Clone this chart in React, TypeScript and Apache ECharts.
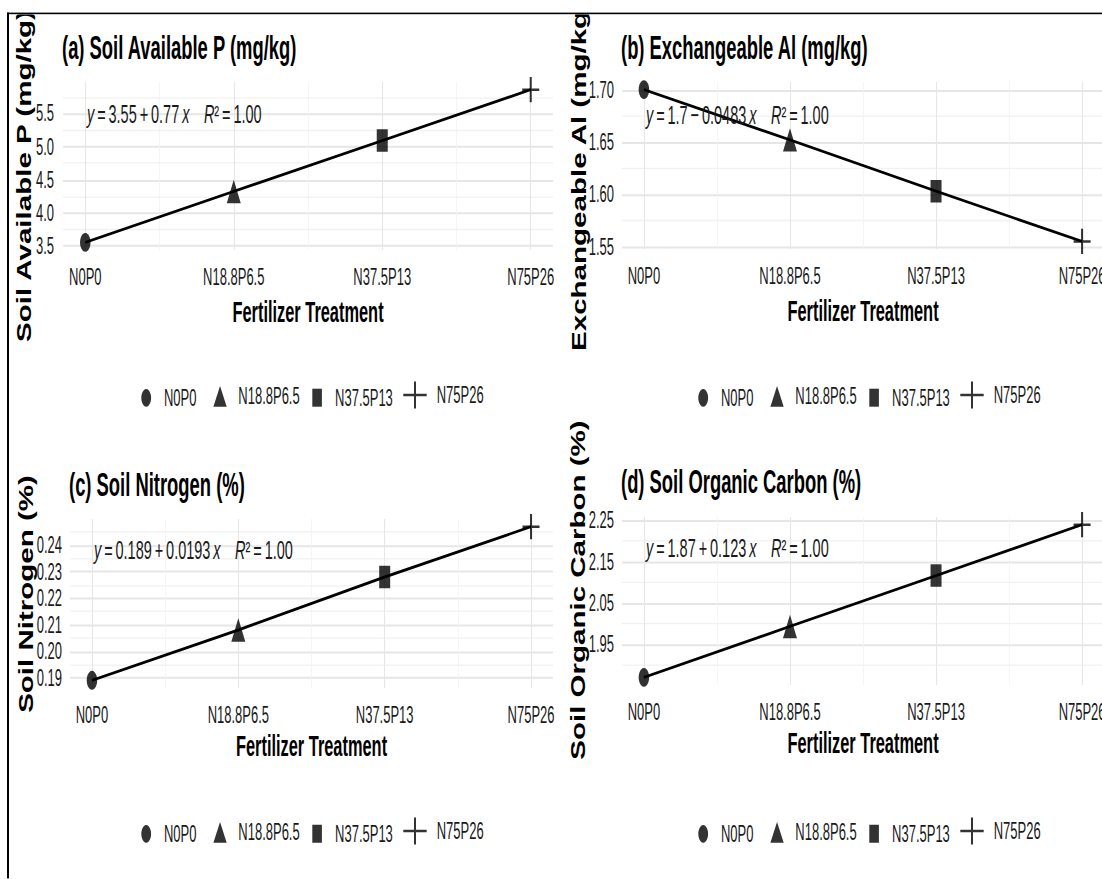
import { useEffect, useRef } from 'react';
import * as echarts from 'echarts';

// The figure is drawn in a compressed coordinate space and stretched vertically,
// which gives the tall, condensed look of the lettering and the oval markers.
const K = 1.8;
const W = 1102;
const H = 879 / K;
const FRAME_X = 7.3;
const FRAME_Y = 7.2;

const SANS = "'Liberation Sans', Arial, sans-serif";

// ---- data -------------------------------------------------------------
const treatments = ['N0P0', 'N18.8P6.5', 'N37.5P13', 'N75P26'];
const treatmentX = [0, 1, 2, 3];

const soilAvailableP = [3.55, 4.32, 5.09, 5.86];
const exchangeableAl = [1.7, 1.652, 1.603, 1.555];
const soilNitrogen = [0.189, 0.208, 0.228, 0.247];
const soilOrganicCarbon = [1.87, 1.993, 2.116, 2.239];

const panelTitles = [
  '(a) Soil Available P (mg/kg)',
  '(b) Exchangeable Al (mg/kg)',
  '(c) Soil Nitrogen (%)',
  '(d) Soil Organic Carbon (%)',
];
const yTitles = ['Soil Available P (mg/kg)', 'Exchangeable Al (mg/kg)', 'Soil Nitrogen (%)', 'Soil Organic Carbon (%)'];
const xTitle = 'Fertilizer Treatment';

const intercepts = ['3.55', '1.7', '0.189', '1.87'];
const slopeSigns = ['+', '\u2212', '+', '+'];
const slopes = ['0.77', '0.0483', '0.0193', '0.123'];
const rSquared = ['1.00', '1.00', '1.00', '1.00'];

const yMajorTicks = [
  [3.5, 4.0, 4.5, 5.0, 5.5],
  [1.55, 1.6, 1.65, 1.7],
  [0.19, 0.2, 0.21, 0.22, 0.23, 0.24],
  [1.95, 2.05, 2.15, 2.25],
];
const yMinorTicks = [
  [3.75, 4.25, 4.75, 5.25, 5.75],
  [1.575, 1.625, 1.675],
  [0.195, 0.205, 0.215, 0.225, 0.235, 0.245],
  [1.9, 2.0, 2.1, 2.2],
];
const yDecimals = [1, 2, 2, 2];
const xMinorTicks = [0.5, 1.5, 2.5];

const panelValues = [soilAvailableP, exchangeableAl, soilNitrogen, soilOrganicCarbon];

// ---- layout -----------------------------------------------------------
const panels = [
  { left: 63, top: 82 / K, width: 490, height: 168 / K, yLabelMargin: 9, xNameGap: 26, yNameX: 24, yNameY: 176 / K, titleLeft: 62, titleTop: 48 / K - 9.2, eqX: 87, eqY: 114 / K, legendDX: 0, legendCY: 395 / K },
  { left: 622, top: 82 / K, width: 482, height: 167 / K, yLabelMargin: 8, xNameGap: 26, yNameX: 579, yNameY: 176 / K, titleLeft: 621, titleTop: 48 / K - 9.2, eqX: 646, eqY: 115 / K, legendDX: 557, legendCY: 395 / K },
  { left: 70, top: 519 / K, width: 483, height: 169 / K, yLabelMargin: 8, xNameGap: 24, yNameX: 26, yNameY: 594 / K, titleLeft: 69, titleTop: 485 / K - 9.2, eqX: 94, eqY: 550 / K, legendDX: 0, legendCY: 831 / K },
  { left: 622, top: 517 / K, width: 482, height: 168 / K, yLabelMargin: 8, xNameGap: 24, yNameX: 578, yNameY: 590 / K, titleLeft: 621, titleTop: 482 / K - 9.2, eqX: 646, eqY: 548 / K, legendDX: 557, legendCY: 831 / K },
];

const PLUS = 'path://M4.4,0H5.6V4.5H10V5.5H5.6V10H4.4V5.5H0V4.5H4.4Z';
const markerSymbols = ['circle', 'triangle', 'rect', PLUS];
const markerSizes: (number | number[])[] = [10.5, [14, 13], [11, 12.5], [17, 14]];

const legendIcons = [
  'circle',
  'path://M0,11.5L6.65,0L13.3,11.5Z',
  'path://M0,0H9.6V10H0Z',
  'path://M10.7,0H12.7V6.8H23.4V8.2H12.7V15H10.7V8.2H0V6.8H10.7Z',
];
const legendIconH = [9.8, 11.5, 10, 15];
const legendIconCX = [154, 226.7, 325.3, 420];
const legendTextX = [171.7, 245, 343.3, 441.7];

const MAJOR = { color: '#e6e6e6', width: 1.1 };
const MINOR = { color: '#f1f1f1', width: 0.7 };
const TEXT = '#1a1a1a';

function buildOption() {
  const grids: any[] = [];
  const xAxes: any[] = [];
  const yAxes: any[] = [];
  const series: any[] = [];
  const legends: any[] = [];
  const titles: any[] = [];
  const graphics: any[] = [];

  panels.forEach((p, i) => {
    const vals = panelValues[i];
    const lo = Math.min(...vals);
    const hi = Math.max(...vals);
    const pad = (hi - lo) * 0.05;
    const ymin = lo - pad;
    const ymax = hi + pad;

    grids.push({ left: p.left, top: p.top, width: p.width, height: p.height, containLabel: false, outerBoundsMode: 'none' });

    xAxes.push({
      type: 'value', gridIndex: i, min: -0.15, max: 3.15,
      axisLine: { show: false },
      axisTick: { show: false, customValues: treatmentX },
      axisLabel: {
        customValues: treatmentX,
        formatter: (v: number) => treatments[Math.round(v)],
        margin: 8.5, fontSize: 13, fontFamily: SANS, color: TEXT,
      },
      splitLine: { show: true, lineStyle: MAJOR },
      name: xTitle, nameLocation: 'middle', nameGap: p.xNameGap,
      nameTextStyle: { fontFamily: SANS, fontWeight: 'bold', fontSize: 16.4, color: '#000' },
    });
    xAxes.push({
      type: 'value', gridIndex: i, min: -0.15, max: 3.15,
      axisLine: { show: false },
      axisTick: { show: false, customValues: xMinorTicks },
      axisLabel: { show: false, customValues: xMinorTicks },
      splitLine: { show: true, lineStyle: MINOR },
    });

    yAxes.push({
      type: 'value', gridIndex: i, min: ymin, max: ymax,
      axisLine: { show: false },
      axisTick: { show: false, customValues: yMajorTicks[i] },
      axisLabel: {
        customValues: yMajorTicks[i],
        formatter: (v: number) => v.toFixed(yDecimals[i]),
        margin: p.yLabelMargin, fontSize: 13, fontFamily: SANS, color: TEXT,
      },
      splitLine: { show: true, lineStyle: MAJOR },
    });
    yAxes.push({
      type: 'value', gridIndex: i, min: ymin, max: ymax,
      axisLine: { show: false },
      axisTick: { show: false, customValues: yMinorTicks[i] },
      axisLabel: { show: false, customValues: yMinorTicks[i] },
      splitLine: { show: true, lineStyle: MINOR },
    });

    series.push({
      type: 'line', xAxisIndex: 2 * i, yAxisIndex: 2 * i,
      data: treatmentX.map((x, j) => [x, vals[j]]),
      symbol: 'none', showSymbol: false,
      lineStyle: { color: '#000', width: 1.6 },
      z: 3, silent: true,
    });
    treatments.forEach((t, j) => {
      series.push({
        type: 'scatter', name: t, xAxisIndex: 2 * i, yAxisIndex: 2 * i,
        data: [[treatmentX[j], vals[j]]],
        symbol: markerSymbols[j], symbolSize: markerSizes[j],
        itemStyle: { color: '#000' },
        z: 4, silent: true,
      });
    });

    titles.push({
      text: panelTitles[i], left: p.titleLeft, top: p.titleTop, padding: 0,
      textStyle: { fontFamily: SANS, fontWeight: 'bold', fontSize: 18.4, color: '#000' },
    });

    treatments.forEach((t, j) => {
      const c = legendIconCX[j] + p.legendDX;
      const tx = legendTextX[j] + p.legendDX;
      const iw = 2 * (tx - c - 5);
      const ih = legendIconH[j];
      legends.push({
        data: [{ name: t, icon: legendIcons[j] }],
        left: c - iw / 2, top: p.legendCY - ih / 2, padding: 0,
        itemWidth: iw, itemHeight: ih, itemGap: 0,
        selectedMode: false,
        textStyle: { fontSize: 13, fontFamily: SANS, color: TEXT },
      });
    });

    // regression equation
    graphics.push({
      type: 'text', x: p.eqX, y: p.eqY, z: 10, silent: true,
      style: {
        text: `{i|y}\u2009=\u2009${intercepts[i]}\u2009${slopeSigns[i]}\u2009${slopes[i]}\u2009{i|x}\u2003{i|R}\u00b2\u2009=\u2009${rSquared[i]}`,
        fontFamily: SANS, fontSize: 14.5, fill: TEXT, verticalAlign: 'middle',
        rich: { i: { fontStyle: 'italic', fontFamily: SANS, fontSize: 14.5, fill: TEXT } },
      },
    });

    // rotated y-axis title, condensed along its reading direction
    graphics.push({
      type: 'text', x: p.yNameX, y: p.yNameY, rotation: Math.PI / 2, scaleX: 0.82, z: 10, silent: true,
      style: {
        text: yTitles[i], fontFamily: SANS, fontWeight: 'bold', fontSize: 20, fill: '#000',
        align: 'center', verticalAlign: 'middle',
      },
    });
  });

  return {
    animation: false,
    backgroundColor: '#fff',
    title: titles,
    grid: grids,
    xAxis: xAxes,
    yAxis: yAxes,
    legend: legends,
    series,
    graphic: graphics,
  };
}

export default function App() {
  const ref = useRef<HTMLDivElement>(null);
  useEffect(() => {
    if (!ref.current) return;
    const chart = echarts.init(ref.current, null, { renderer: 'svg' });
    chart.setOption(buildOption() as any);
    return () => chart.dispose();
  }, []);
  return (
    <div style={{ position: 'absolute', left: 0, top: 0, width: W, height: 879, overflow: 'hidden', background: '#fff' }}>
      <div style={{ position: 'absolute', left: 0, top: 0, width: W, height: H, transform: `scaleY(${K})`, transformOrigin: '0 0' }}>
        <div
          style={{
            position: 'absolute', left: FRAME_X, top: FRAME_Y, right: 0, bottom: 0,
            borderTop: '1.5px solid #000', borderLeft: '2px solid #000', overflow: 'hidden',
          }}
        >
          <div ref={ref} style={{ position: 'absolute', left: -(FRAME_X + 2), top: -(FRAME_Y + 1.5), width: W, height: H }} />
        </div>
      </div>
    </div>
  );
}
